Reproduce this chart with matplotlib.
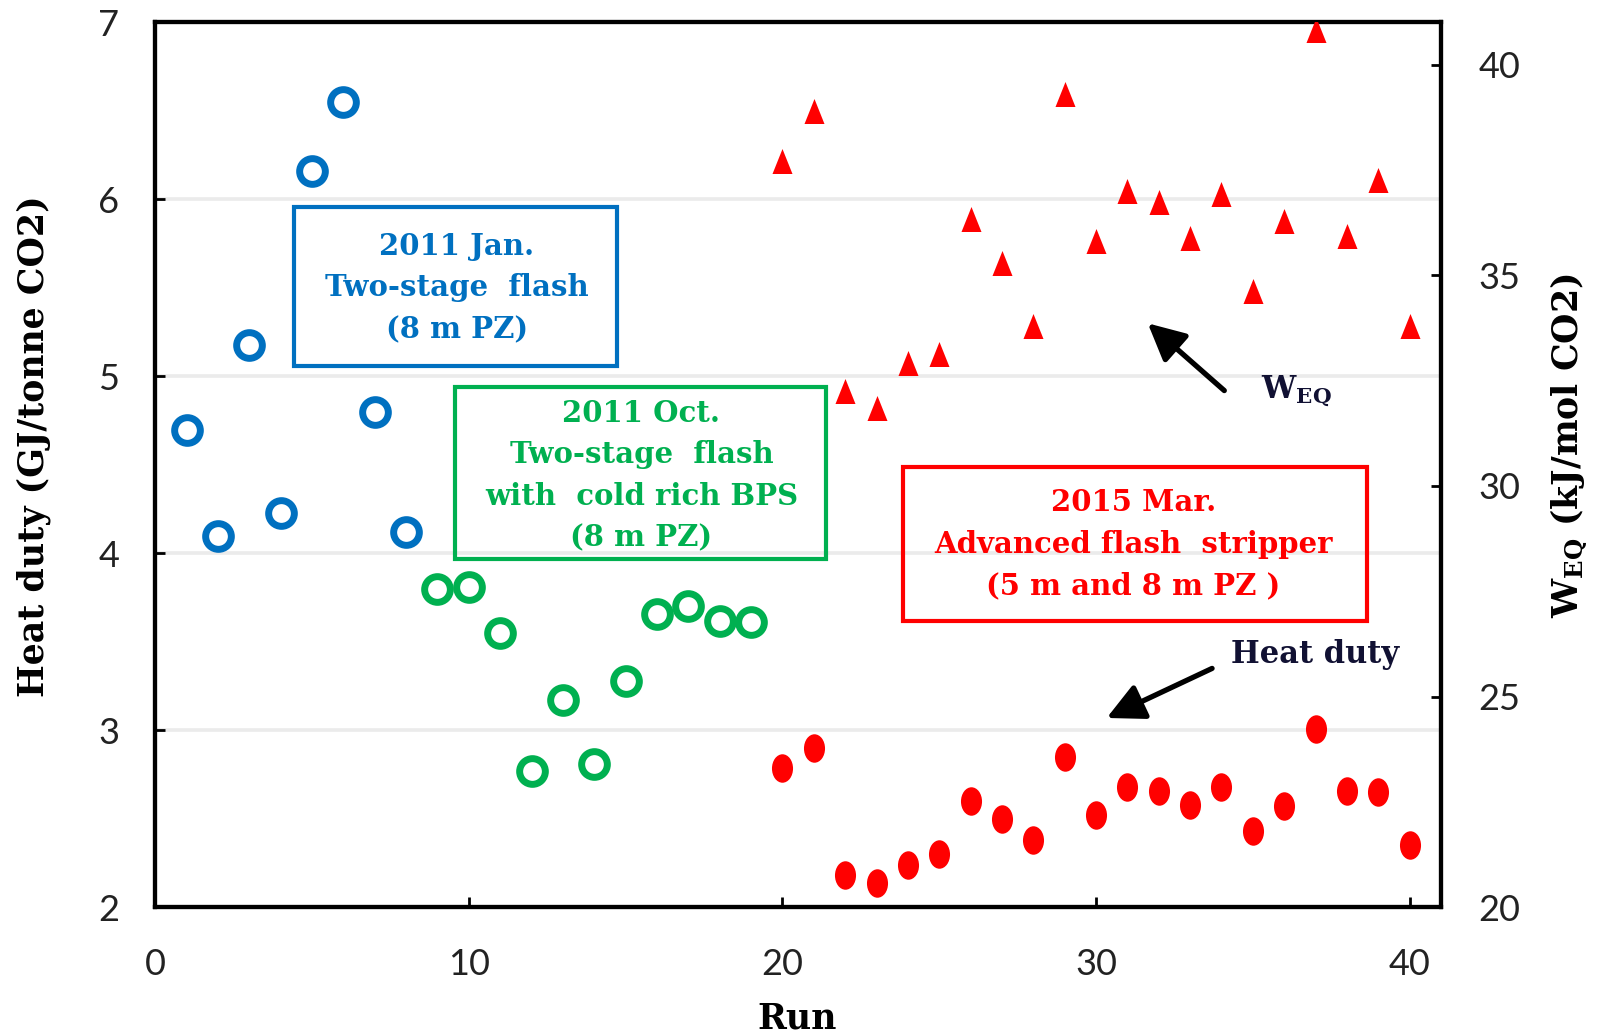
import numpy as np
import matplotlib as mpl
mpl.use('Agg')
import matplotlib.pyplot as plt
from matplotlib.patches import Rectangle
from matplotlib.path import Path

plt.rcParams['mathtext.fontset'] = 'dejavuserif'

# ---- data ----
runs_jan = [1, 2, 3, 4, 5, 6, 7, 8]
heat_jan = [4.70, 4.10, 5.18, 4.23, 6.16, 6.55, 4.80, 4.12]

runs_oct = [9, 10, 11, 12, 13, 14, 15, 16, 17, 18, 19]
heat_oct = [3.80, 3.81, 3.55, 2.77, 3.17, 2.81, 3.28, 3.66, 3.70, 3.62, 3.61]

runs_mar = [20, 21, 22, 23, 24, 25, 26, 27, 28, 29, 30,
            31, 32, 33, 34, 35, 36, 37, 38, 39, 40]
heat_mar = [2.79, 2.90, 2.18, 2.14, 2.24, 2.30, 2.60, 2.50, 2.38, 2.85, 2.52,
            2.68, 2.66, 2.58, 2.68, 2.43, 2.57, 3.01, 2.66, 2.65, 2.35]
weq_mar = [37.72, 38.91, 32.25, 31.84, 32.93, 33.14, 36.33, 35.30, 33.80, 39.30, 35.82,
           37.00, 36.73, 35.88, 36.93, 34.63, 36.28, 40.81, 35.94, 37.27, 33.80]

left_ticks = [2, 3, 4, 5, 6, 7]
right_ticks = [20, 25, 30, 35, 40]
x_ticks = [0, 10, 20, 30, 40]

blue = '#0070C0'
green = '#00B050'
red = '#FF0000'

serif = 'DejaVu Serif'
tickfont = 'Lato'

# stretched markers like the original picture
circ = Path.unit_circle()
ellipse = Path(circ.vertices * np.array([0.74, 1.0]), circ.codes)
tri = [(0, 1), (-0.8, -1), (0.8, -1)]

fig = plt.figure(figsize=(16.02, 10.36), dpi=100)
ax = fig.add_axes([0.0969, 0.1242, 0.8026, 0.8541])
ax2 = ax.twinx()

ax.plot(runs_jan, heat_jan, 'o', ls='none', mfc='none', mec=blue, ms=18.5, mew=5, zorder=3)
ax.plot(runs_oct, heat_oct, 'o', ls='none', mfc='none', mec=green, ms=18.5, mew=5, zorder=3)
ax.plot(runs_mar, heat_mar, marker=ellipse, ls='none', color=red, ms=20.5, mew=0, zorder=3)
ax2.plot(runs_mar, weq_mar, marker=tri, ls='none', color=red, ms=18, mew=0, zorder=3)

ax.set_xlim(0, 41)
ax.set_ylim(2, 7)
ax2.set_ylim(20, 41)
ax.set_xticks(x_ticks)
ax.set_yticks(left_ticks)
ax2.set_yticks(right_ticks)

ax.set_axisbelow(True)
ax.yaxis.grid(True, color='#ebebeb', lw=2.6)

for a in (ax, ax2):
    for s in a.spines.values():
        s.set_linewidth(3)
        s.set_color('black')

ax.tick_params(axis='y', direction='in', length=7, width=2, labelsize=26, pad=26)
ax.tick_params(axis='x', direction='in', length=7, width=2, labelsize=26, pad=29)
ax2.tick_params(axis='y', direction='in', length=7, width=2, labelsize=26, pad=27)
for lab in ax.get_xticklabels() + ax.get_yticklabels() + ax2.get_yticklabels():
    lab.set_family(tickfont)
    lab.set_color('#222222')

ax.set_xlabel('Run', family=serif, weight='bold', fontsize=25, va='center')
ax.xaxis.set_label_coords(0.499, -0.126)
ax.set_ylabel('Heat duty (GJ/tonne CO2)', family=serif, weight='bold', fontsize=25, va='center')
ax.yaxis.set_label_coords(-0.0943, 0.521)
ax2.set_ylabel(r'$\mathbf{W}_{\mathbf{EQ}}$ (kJ/mol CO2)', family=serif, weight='bold',
               fontsize=25, va='center', rotation=90)
ax2.yaxis.set_label_coords(1.100, 0.522)

# campaign boxes
boxes = [
    ((4.43, 5.06), 10.28, 0.90, blue, (9.62, 5.50), '2011 Jan.\nTwo-stage  flash\n(8 m PZ)'),
    ((9.56, 3.97), 11.84, 0.97, green, (15.50, 4.44),
     '2011 Oct.\nTwo-stage  flash\nwith  cold rich BPS\n(8 m PZ)'),
    ((23.84, 3.62), 14.81, 0.87, red, (31.19, 4.05),
     '2015 Mar.\nAdvanced flash  stripper\n(5 m and 8 m PZ )'),
]
for (x0, y0), w, h, c, (tx, ty), txt in boxes:
    ax.add_patch(Rectangle((x0, y0), w, h, fill=False, ec=c, lw=3, zorder=4))
    ax.text(tx, ty, txt, color=c, family=serif, weight='bold', fontsize=21,
            ha='center', va='center', multialignment='center', linespacing=1.55, zorder=5)

# arrows and labels
arrow = dict(arrowstyle='-|>,head_length=0.5,head_width=0.25', lw=3.8, color='black',
             mutation_scale=45, shrinkA=0, shrinkB=0)
ax.annotate('', xy=(31.65, 5.30), xytext=(34.09, 4.92), arrowprops=arrow, zorder=5)
ax.annotate('', xy=(30.34, 3.07), xytext=(33.70, 3.35), arrowprops=arrow, zorder=5)
ax.text(36.4, 4.92, r'$\mathbf{W}_{\mathbf{EQ}}$', fontsize=22, ha='center', va='center',
        color='#111133', zorder=5)
ax.text(36.97, 3.43, 'Heat duty', family=serif, weight='bold', fontsize=22,
        ha='center', va='center', color='#111133', zorder=5)

fig.savefig('out.png', dpi=100)
